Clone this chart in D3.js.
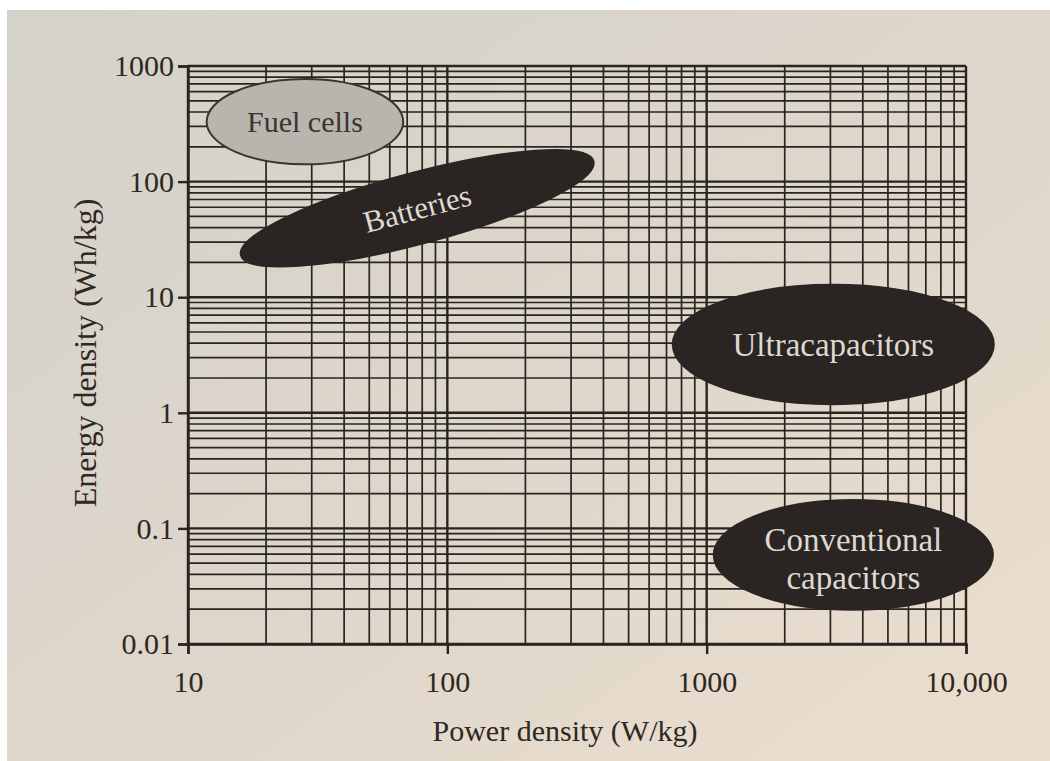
<!DOCTYPE html>
<html>
<head>
<meta charset="utf-8">
<script src="https://cdn.jsdelivr.net/npm/d3@7"></script>
<style>
  html, body { margin: 0; padding: 0; background: #fff; }
  svg { display: block; }
  text { font-family: "Liberation Serif", "DejaVu Serif", serif; }
</style>
</head>
<body>
<svg id="chart" width="1050" height="761"></svg>
<script>
// ---- Data ----
const xTicks = [10, 100, 1000, 10000];
const xTickLabels = ["10", "100", "1000", "10,000"];
const yTicks = [0.01, 0.1, 1, 10, 100, 1000];
const yTickLabels = ["0.01", "0.1", "1", "10", "100", "1000"];
const xTitle = "Power density (W/kg)";
const yTitle = "Energy density (Wh/kg)";

// Regions (Ragone plot): major-axis end points and energy at top of ellipse above centre
const regionNames = ["Fuel cells", "Batteries", "Ultracapacitors", "Conventional capacitors"];
const regionLines = [["Fuel cells"], ["Batteries"], ["Ultracapacitors"], ["Conventional", "capacitors"]];
const regionPowerStart = [11.8, 16, 740, 1065];      // W/kg, left end of major axis
const regionEnergyStart = [330, 23, 3.9, 0.059];     // Wh/kg at left end
const regionPowerEnd = [67.6, 366, 12800, 12700];    // W/kg, right end of major axis
const regionEnergyEnd = [330, 150, 3.9, 0.059];      // Wh/kg at right end
const regionEnergyTop = [772, 122, 12.8, 0.176];     // Wh/kg at the top of the ellipse, above centre
const regionDark = [false, true, true, true];

// ---- Layout ----
(function () {
const svg = d3.select("#chart");
const W = 1050, H = 761;
const mLeft = 188, mRight = 966, mTop = 66, mBottom = 644;

const x = d3.scaleLog().domain([10, 10000]).range([mLeft, mRight]);
const y = d3.scaleLog().domain([0.01, 1000]).range([mBottom, mTop]);

// paper background
const defs = svg.append("defs");
const grad = defs.append("linearGradient").attr("id", "paper")
  .attr("x1", "0").attr("y1", "0").attr("x2", "1").attr("y2", "1");
grad.append("stop").attr("offset", "0%").attr("stop-color", "#d5d2ca");
grad.append("stop").attr("offset", "50%").attr("stop-color", "#ddd6cb");
grad.append("stop").attr("offset", "100%").attr("stop-color", "#ecdecd");
svg.append("rect").attr("width", W).attr("height", H).attr("fill", "#ffffff");
svg.append("rect").attr("x", 7).attr("y", 10).attr("width", W - 7).attr("height", H - 10)
  .attr("fill", "url(#paper)");

const ink = "#2a2420";

// ---- Grid ----
const grid = svg.append("g");
function minorValues(lo, hi) {
  const out = [];
  for (let d = lo; d < hi * 0.99; d *= 10) {
    for (let k = 1; k <= 9; k++) out.push(d * k);
  }
  out.push(hi);
  return out;
}
const xGrid = minorValues(10, 10000);
const yGrid = minorValues(0.01, 1000);
const isDecade = v => Math.abs(Math.log10(v) - Math.round(Math.log10(v))) < 1e-6;

grid.selectAll("line.v").data(xGrid).join("line")
  .attr("x1", d => x(d)).attr("x2", d => x(d))
  .attr("y1", mTop).attr("y2", mBottom)
  .attr("stroke", ink).attr("stroke-width", d => isDecade(d) ? 2.4 : 1.7);
grid.selectAll("line.h").data(yGrid).join("line")
  .attr("y1", d => y(d)).attr("y2", d => y(d))
  .attr("x1", mLeft).attr("x2", mRight)
  .attr("stroke", ink).attr("stroke-width", d => isDecade(d) ? 2.4 : 1.7);

// ---- Axes ----
const xAxis = d3.axisBottom(x).tickValues(xTicks)
  .tickFormat((d, i) => xTickLabels[i]).tickSize(10).tickPadding(17);
const yAxis = d3.axisLeft(y).tickValues(yTicks)
  .tickFormat((d, i) => yTickLabels[i]).tickSize(10).tickPadding(4);

const gx = svg.append("g").attr("transform", `translate(0,${mBottom})`).call(xAxis);
const gy = svg.append("g").attr("transform", `translate(${mLeft},0)`).call(yAxis);
[gx, gy].forEach(g => {
  g.select(".domain").attr("stroke", ink).attr("stroke-width", 2.4);
  g.selectAll(".tick line").attr("stroke", ink).attr("stroke-width", 2.4);
  g.selectAll(".tick text").attr("fill", "#2e2824")
    .style("font-family", '"Liberation Serif", "DejaVu Serif", serif')
    .style("font-size", "30px");
});

// axis titles
svg.append("text").attr("x", 565).attr("y", 741)
  .attr("text-anchor", "middle").attr("fill", "#2e2824")
  .style("font-size", "30px").text(xTitle);
svg.append("text")
  .attr("transform", `translate(96,353) rotate(-90)`)
  .attr("text-anchor", "middle").attr("fill", "#2e2824")
  .style("font-size", "32px").text(yTitle);

// ---- Regions ----
const regions = regionNames.map((name, i) => {
  const x1 = x(regionPowerStart[i]), y1 = y(regionEnergyStart[i]);
  const x2 = x(regionPowerEnd[i]), y2 = y(regionEnergyEnd[i]);
  const cx = (x1 + x2) / 2, cy = (y1 + y2) / 2;
  const rx = Math.hypot(x2 - x1, y2 - y1) / 2;
  const ang = Math.atan2(y2 - y1, x2 - x1);
  const ry = (cy - y(regionEnergyTop[i])) * Math.cos(ang);
  return { name, lines: regionLines[i], cx, cy, rx, ry, deg: ang * 180 / Math.PI, dark: regionDark[i] };
});

const rg = svg.append("g").selectAll("g").data(regions).join("g")
  .attr("transform", d => `translate(${d.cx},${d.cy}) rotate(${d.deg})`);
rg.append("ellipse")
  .attr("rx", d => d.rx).attr("ry", d => d.ry)
  .attr("fill", d => d.dark ? "#2a2523" : "#b9b4ae")
  .attr("stroke", d => d.dark ? "#2a2523" : "#3a3430")
  .attr("stroke-width", 2);
rg.each(function (d) {
  const g = d3.select(this);
  const n = d.lines.length, lh = 38;
  const fs = d.name === "Fuel cells" ? 30 : (d.name === "Batteries" ? 31 : 33);
  d.lines.forEach((t, k) => {
    g.append("text")
      .attr("x", 0).attr("y", (k - (n - 1) / 2) * lh + (n > 1 ? 4 : 0))
      .attr("dy", "0.35em")
      .attr("text-anchor", "middle")
      .attr("fill", d.dark ? "#ddd8d0" : "#3a3431")
      .style("font-size", fs + "px")
      .text(t);
  });
});
})();
</script>
</body>
</html>
